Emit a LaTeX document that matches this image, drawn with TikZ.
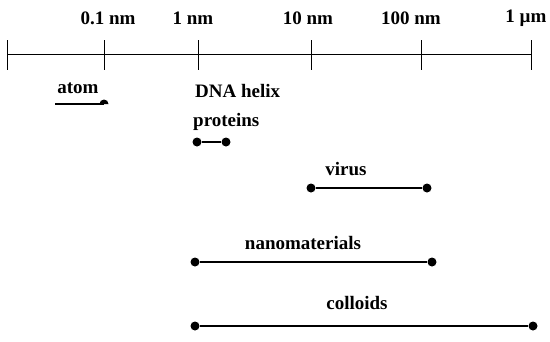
\documentclass[tikz,border=0pt]{standalone}
\usepackage{fontspec}
\setmainfont{Liberation Serif}
\begin{document}
\begin{tikzpicture}[x=1pt,y=-1pt,
  lbl/.style={font=\fontsize{19}{22}\selectfont\bfseries, inner sep=0pt},
  axisline/.style={line width=1pt},
  rangeline/.style={line width=1.8pt},
  rdot/.style={circle, fill=black, inner sep=0pt, minimum size=9pt}]
\useasboundingbox (0,0) rectangle (550,341);
% axis
\coordinate (a0) at (7,54);
\coordinate (a5) at (531,54);
\draw[axisline] (a0) -- (a5);
\foreach \x in {7,104,198,311,421,531}{
  \draw[axisline] (\x,40) -- (\x,70);
}
\node[lbl] (l1) at (108,18) {0.1 nm};
\node[lbl] (l2) at (193,18) {1 nm};
\node[lbl] (l3) at (308,18) {10 nm};
\node[lbl] (l4) at (411,18) {100 nm};
\node[lbl] (l5) at (526,18) {1 µm};
% atom
\node[lbl] (atom) at (78,88) {atom};
\coordinate (atomL) at (55,104);
\coordinate (atomR) at (104,104);
\draw[rangeline] (atomL) -- (atomR);
\fill (atomR) ++(-4.5,0) arc (180:360:4.5) -- cycle;
% DNA / proteins
\node[lbl, anchor=west] (dna) at (195,91) {DNA helix};
\node[lbl, anchor=west] (prot) at (193,122) {proteins};
\node[rdot] (p1) at (197,142) {};
\node[rdot] (p2) at (226,142) {};
\draw[rangeline] (p1) -- (p2);
% virus
\node[lbl] (vir) at (346,169) {virus};
\node[rdot] (v1) at (311,188) {};
\node[rdot] (v2) at (427,188) {};
\draw[rangeline] (v1) -- (v2);
% nanomaterials
\node[lbl] (nano) at (303,243) {nanomaterials};
\node[rdot] (n1) at (195,262) {};
\node[rdot] (n2) at (432,262) {};
\draw[rangeline] (n1) -- (n2);
% colloids
\node[lbl] (col) at (357,303) {colloids};
\node[rdot] (c1) at (195,326) {};
\node[rdot] (c2) at (533,326) {};
\draw[rangeline] (c1) -- (c2);
\end{tikzpicture}
\end{document}
